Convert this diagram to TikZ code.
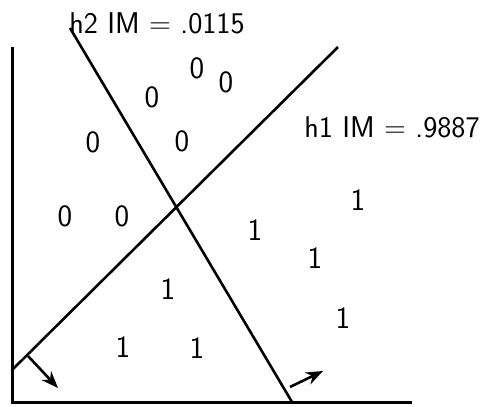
\documentclass[tikz,border=0pt]{standalone}
\usetikzlibrary{arrows.meta}
\begin{document}
\begin{tikzpicture}[x=1pt,y=-1pt,
  axis/.style={line width=3pt},
  sep/.style={line width=2.6pt},
  normal/.style={line width=2.6pt,-{Stealth[length=17pt,width=13pt]}},
  lbl/.style={font=\sffamily\fontsize{30}{36}\selectfont,inner sep=0pt,anchor=base},
  dig/.style={font=\sffamily\fontsize{31}{36}\selectfont,inner sep=0pt}]
\useasboundingbox (0,0) rectangle (493,407);
% axes
\coordinate (ytop) at (12,47);
\coordinate (orig) at (12,402);
\coordinate (xend) at (412,402);
\draw[axis] (ytop) -- (orig) -- (xend);
% separating lines
\coordinate (h1a) at (12,370);
\coordinate (h1b) at (338,47);
\coordinate (h2a) at (70,28);
\coordinate (h2b) at (292,402);
\draw[sep] (h1a) -- (h1b);
\draw[sep] (h2a) -- (h2b);
% normal arrows
\coordinate (n1s) at (28,356);
\coordinate (n1e) at (58,388);
\coordinate (n2s) at (290,387);
\coordinate (n2e) at (323,371);
\draw[normal] (n1s) -- (n1e);
\draw[normal] (n2s) -- (n2e);
% labels
\node[lbl] (l2) at (157,33) {h2 IM = .0115};
\node[lbl] (l1) at (392,137) {h1 IM = .9887};
% zeros
\node[dig] (z1) at (197,68) {0};
\node[dig] (z2) at (226,82) {0};
\node[dig] (z3) at (152,97) {0};
\node[dig] (z4) at (93,142) {0};
\node[dig] (z5) at (182,141) {0};
\node[dig] (z6) at (65,216) {0};
\node[dig] (z7) at (122,216) {0};
% ones
\node[dig] (o1) at (358,200) {1};
\node[dig] (o2) at (255,230) {1};
\node[dig] (o3) at (315,258) {1};
\node[dig] (o4) at (168,289) {1};
\node[dig] (o5) at (343,318) {1};
\node[dig] (o6) at (123,347) {1};
\node[dig] (o7) at (197,348) {1};
\end{tikzpicture}
\end{document}
